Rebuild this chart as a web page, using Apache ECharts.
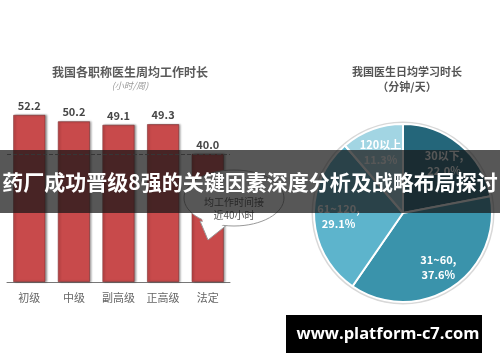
<!DOCTYPE html>
<html><head><meta charset="utf-8">
<script src="https://cdn.jsdelivr.net/npm/echarts@6/dist/echarts.min.js"></script>
<style>html,body{margin:0;padding:0;background:#fff}#c{width:500px;height:362px}</style>
</head><body><div id="c"></div>
<script>
const barCategories = ['初级', '中级', '副高级', '正高级', '法定'];
const barValues = [52.2, 50.2, 49.1, 49.3, 40.0];
const legalLine = 40;
const pieNames = ['30以下', '31~60', '61~120', '120以上'];
const pieValues = [22.0, 37.6, 29.1, 11.3];
const pieLabels = ['30以下,\n22.0%', '31~60,\n37.6%', '61~120,\n29.1%', '120以上\n11.3%'];
const pieColors = ['#24667a', '#3a93ab', '#5db4cc', '#a2d5e3'];

const chart = echarts.init(document.getElementById('c'));
const F = '"Noto Sans CJK SC", "Noto Sans", sans-serif';
chart.setOption({
  animation: false,
  backgroundColor: '#fff',
  title: [
    {text: '我国各职称医生周均工作时长', left: 125, top: 61, textAlign: 'center',
     textStyle: {fontFamily: F, fontSize: 12, fontWeight: 'bold', color: '#5a5a5a'}},
    {text: '(小时/周)', left: 125, top: 76, textAlign: 'center',
     textStyle: {fontFamily: F, fontSize: 9, fontStyle: 'italic', fontWeight: 'normal', color: '#999'}},
    {text: '我国医生日均学习时长', left: 402, top: 61, textAlign: 'center',
     textStyle: {fontFamily: F, fontSize: 11, fontWeight: 'bold', color: '#555'}},
    {text: '（分钟/天）', left: 402, top: 76, textAlign: 'center',
     textStyle: {fontFamily: F, fontSize: 11, fontWeight: 'bold', color: '#555'}}
  ],
  grid: {left: 7, right: 270, top: 90, bottom: 80},
  xAxis: {type: 'category', data: barCategories,
    axisLine: {lineStyle: {color: '#777'}}, axisTick: {show: false},
    axisLabel: {margin: 10, fontFamily: F, fontSize: 11, color: '#666'}},
  yAxis: {type: 'value', min: 0, max: 60, show: false},
  series: [
    {type: 'bar', data: barValues, barWidth: 32,
     itemStyle: {color: '#c84a4b', borderColor: '#7a2f30', borderWidth: 0.6,
       shadowColor: 'rgba(0,0,0,0.35)', shadowBlur: 2, shadowOffsetX: 1.5, shadowOffsetY: 0},
     label: {show: true, position: 'top', distance: 4, fontFamily: F, fontSize: 11,
       fontWeight: 'bold', color: '#474747', formatter: p => p.value.toFixed(1)},
     markLine: {silent: true, symbol: 'none', label: {show: false},
       lineStyle: {type: 'dashed', color: '#888', width: 1},
       data: [{yAxis: legalLine}]}},
    {type: 'pie', center: [403, 213], radius: [89, 91.5], silent: true, z: 1,
     label: {show: false}, data: [{value: 1, itemStyle: {color: '#d8d8d8'}}]},
    {type: 'pie', center: [403, 213], radius: [0, 89], startAngle: 90, clockwise: true,
     itemStyle: {borderColor: '#fff', borderWidth: 2},
     label: {show: false},
     data: pieNames.map((n, i) => ({name: n, value: pieValues[i], itemStyle: {color: pieColors[i]}}))},
    {type: 'pie', center: [403, 213], radius: [34, 89], startAngle: 90, clockwise: true,
     silent: true, z: 3,
     itemStyle: {color: 'rgba(0,0,0,0)'},
     label: {show: true, position: 'inside', fontFamily: F, fontSize: 11, fontWeight: 'bold',
       color: '#fff', lineHeight: 15, formatter: p => pieLabels[p.dataIndex]},
     data: pieNames.map((n, i) => ({name: n, value: pieValues[i]}))}
  ],
  graphic: [
    {type: 'polygon', z: 50, shape: {points: [[200, 221], [208, 240], [228, 224]]},
     style: {fill: '#fff', stroke: '#999', lineWidth: 1}},
    {type: 'ellipse', z: 51, shape: {cx: 234, cy: 198, rx: 50, ry: 28},
     style: {fill: '#fff', stroke: '#999', lineWidth: 1}},
    {type: 'polygon', z: 52, shape: {points: [[202, 219], [208, 238], [226, 222]]},
     style: {fill: '#fff'}},
    {type: 'text', z: 53, x: 234, y: 202, style: {text: '均工作时间接', fontFamily: F, fontSize: 10,
      fill: '#555', align: 'center', verticalAlign: 'middle'}},
    {type: 'text', z: 53, x: 234, y: 215, style: {text: '近40小时', fontFamily: F, fontSize: 10,
      fill: '#555', align: 'center', verticalAlign: 'middle'}},
    {type: 'rect', z: 100, shape: {x: 0, y: 150, width: 500, height: 63},
     style: {fill: 'rgba(22,22,22,0.72)'}},
    {type: 'text', z: 101, x: 250, y: 182, style: {text: '药厂成功晋级8强的关键因素深度分析及战略布局探讨',
      fontFamily: F, fontSize: 21, fontWeight: 'bold', fill: '#fff', align: 'center', verticalAlign: 'middle'}},
    {type: 'rect', z: 100, shape: {x: 286, y: 315, width: 196, height: 38}, style: {fill: '#000'}},
    {type: 'text', z: 101, x: 388, y: 334, style: {text: 'www.platform-c7.com',
      fontFamily: '"Open Sans", sans-serif', fontSize: 16.5, fontWeight: 'bold', fill: '#fff',
      align: 'center', verticalAlign: 'middle'}}
  ]
});
</script></body></html>
